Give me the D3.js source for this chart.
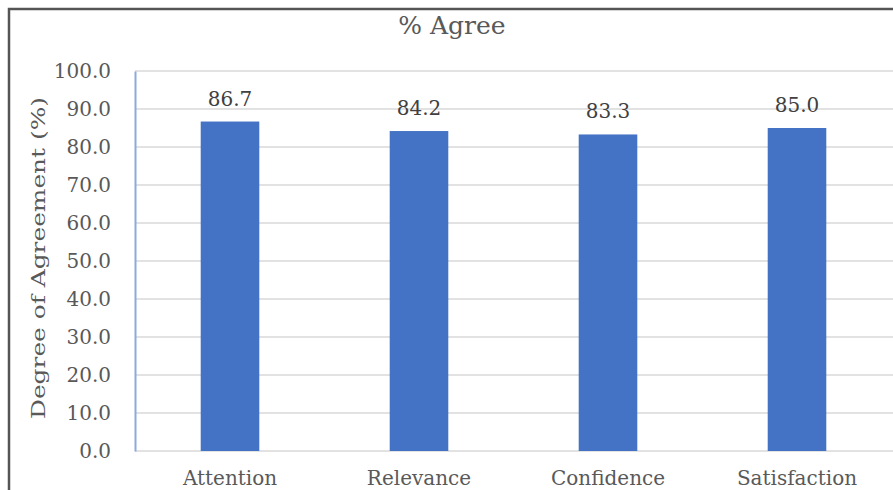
<!DOCTYPE html>
<html>
<head>
<meta charset="utf-8">
<script src="https://cdn.jsdelivr.net/npm/d3@7"></script>
<style>
  body { margin: 0; background: #fff; }
  text { font-family: "DejaVu Serif", "Liberation Serif", serif; }
</style>
</head>
<body>
<svg id="chart" width="893" height="490"></svg>
<script>
// donnees
var categories = ["Attention", "Relevance", "Confidence", "Satisfaction"];
var agree = [86.7, 84.2, 83.3, 85.0];
var yTicks = [0, 10, 20, 30, 40, 50, 60, 70, 80, 90, 100];

var svg = d3.select("#chart"),
    width = +svg.attr("width"),
    height = +svg.attr("height");

svg.append("rect").attr("width", width).attr("height", height).attr("fill", "#fff");

// cadre (coupe a droite et en bas)
svg.append("path")
  .attr("d", "M9," + height + "V9H" + width)
  .attr("fill", "none")
  .attr("stroke", "#555")
  .attr("stroke-width", 2.5);

var x = d3.scaleBand().domain(categories).range([135.5, 891.5]).paddingInner(0.69).paddingOuter(0.345);
var y = d3.scaleLinear().domain([0, 100]).range([451, 71]);

// grille
svg.append("g")
  .selectAll("line")
  .data(yTicks)
  .enter().append("line")
  .attr("x1", 135).attr("x2", width)
  .attr("y1", function(d) { return y(d); })
  .attr("y2", function(d) { return y(d); })
  .attr("stroke", "#d9d9d9")
  .attr("stroke-width", 1.3);

// axe y
var yAxis = svg.append("g")
  .attr("transform", "translate(135,0)")
  .call(d3.axisLeft(y).tickValues(yTicks).tickSize(0).tickPadding(24).tickFormat(d3.format(".1f")));
yAxis.select(".domain").attr("stroke", "#8eaadb").attr("stroke-width", 2);
yAxis.selectAll("text")
  .attr("fill", "#595959")
  .attr("font-size", "20px")
  .attr("font-family", "DejaVu Serif, serif");

// barres
svg.append("g")
  .selectAll("rect")
  .data(agree)
  .enter().append("rect")
  .attr("x", function(d, i) { return x(categories[i]); })
  .attr("y", function(d) { return y(d); })
  .attr("width", x.bandwidth())
  .attr("height", function(d) { return y(0) - y(d); })
  .attr("fill", "#4472c4");

// etiquettes des valeurs
svg.append("g")
  .selectAll("text")
  .data(agree)
  .enter().append("text")
  .attr("x", function(d, i) { return x(categories[i]) + x.bandwidth() / 2; })
  .attr("y", function(d) { return y(d) - 16; })
  .attr("text-anchor", "middle")
  .attr("font-size", "20px")
  .attr("fill", "#404040")
  .text(function(d) { return d.toFixed(1); });

// categories
svg.append("g")
  .selectAll("text")
  .data(categories)
  .enter().append("text")
  .attr("x", function(d) { return x(d) + x.bandwidth() / 2; })
  .attr("y", 485)
  .attr("text-anchor", "middle")
  .attr("font-size", "20px")
  .attr("fill", "#595959")
  .text(function(d) { return d; });

// titre
svg.append("text")
  .attr("x", 452).attr("y", 34)
  .attr("text-anchor", "middle")
  .attr("font-size", "25px")
  .attr("fill", "#595959")
  .text("% Agree");

// titre axe y
svg.append("text")
  .attr("transform", "translate(45,258) rotate(-90)")
  .attr("text-anchor", "middle")
  .attr("font-size", "19px")
  .attr("textLength", 322)
  .attr("lengthAdjust", "spacingAndGlyphs")
  .attr("fill", "#595959")
  .text("Degree of Agreement (%)");
</script>
</body>
</html>
